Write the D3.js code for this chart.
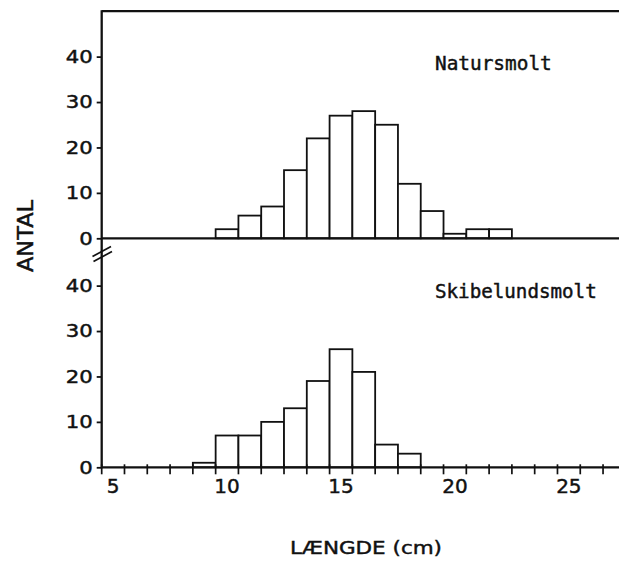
<!DOCTYPE html>
<html><head><meta charset="utf-8">
<script src="https://cdn.jsdelivr.net/npm/d3@7"></script>
<style>body{margin:0;background:#fff}svg{display:block}</style>
</head><body>
<svg id="chart" width="619" height="561"></svg>
<script>
// ---- data ----
const naturLengths = [10, 11, 12, 13, 14, 15, 16, 17, 18, 19, 20, 21, 22];
const naturCounts  = [2, 5, 7, 15, 22, 27, 28, 25, 12, 6, 1, 2, 2];
const skibeLengths = [9, 10, 11, 12, 13, 14, 15, 16, 17, 18];
const skibeCounts  = [1, 7, 7, 10, 13, 19, 26, 21, 5, 3];
const yTickValues  = [0, 10, 20, 30, 40];
const xLabelValues = [5, 10, 15, 20, 25];
const xEdgeTicks   = d3.range(4.5, 27, 1);
const panelTitles  = ["Natursmolt", "Skibelundsmolt"];
const xTitle = "LÆNGDE (cm)";
const yTitle = "ANTAL";

const svg = d3.select("#chart");
const x = d3.scaleLinear().domain([4.5, 27.2]).range([101.7, 619]);
const yTop = d3.scaleLinear().domain([0, 50]).range([238.3, 11.2]);
const yBot = d3.scaleLinear().domain([0, 50]).range([467.3, 240.2]);

const ink = "#111";
const textStroke = 0.45;

function drawBars(lengths, counts, y) {
  svg.append("g").selectAll("rect")
    .data(lengths.map((l, i) => ({l, c: counts[i]})))
    .join("rect")
    .attr("x", d => x(d.l - 0.5))
    .attr("width", d => x(d.l + 0.5) - x(d.l - 0.5))
    .attr("y", d => y(d.c))
    .attr("height", d => y(0) - y(d.c))
    .attr("fill", "#fff")
    .attr("stroke", ink)
    .attr("stroke-width", 1.8);
}
drawBars(naturLengths, naturCounts, yTop);
drawBars(skibeLengths, skibeCounts, yBot);

// y axes
function drawYAxis(y) {
  const g = svg.append("g").attr("transform", `translate(${x(4.5)},0)`)
    .call(d3.axisLeft(y).tickValues(yTickValues).tickSize(5).tickPadding(4).tickFormat(d3.format("d")));
  g.select(".domain").remove();
  g.selectAll(".tick line").attr("stroke", ink).attr("stroke-width", 1.8);
  g.selectAll(".tick text")
    .attr("font-family", "DejaVu Sans, sans-serif")
    .attr("font-size", 18)
    .attr("fill", ink)
    .attr("stroke", ink).attr("stroke-width", textStroke)
    .attr("textLength", d => String(d).length * 13.5)
    .attr("lengthAdjust", "spacingAndGlyphs");
}
drawYAxis(yTop);
drawYAxis(yBot);

// frame lines
const lines = svg.append("g").attr("stroke", ink).attr("stroke-width", 2.3);
lines.append("line").attr("x1", x(4.5)).attr("x2", x(27.2)).attr("y1", yTop(50)).attr("y2", yTop(50));
lines.append("line").attr("x1", x(4.5)).attr("x2", x(27.2)).attr("y1", yTop(0)).attr("y2", yTop(0));
lines.append("line").attr("x1", x(4.5)).attr("x2", x(27.2)).attr("y1", yBot(0)).attr("y2", yBot(0));
lines.append("line").attr("x1", x(4.5)).attr("x2", x(4.5)).attr("y1", yTop(50) - 1).attr("y2", yBot(0) + 1);

// axis break marks
const brk = svg.append("g").attr("stroke", ink).attr("stroke-width", 1.7);
brk.append("line").attr("x1", 92.5).attr("y1", 256.5).attr("x2", 111).attr("y2", 246.5);
brk.append("line").attr("x1", 93.5).attr("y1", 261.5).attr("x2", 112).attr("y2", 251.5);

// bottom x-axis ticks at bin edges
svg.append("g").selectAll("line").data(xEdgeTicks).join("line")
  .attr("x1", d => x(d)).attr("x2", d => x(d))
  .attr("y1", yBot(0) - 3).attr("y2", yBot(0) + 7)
  .attr("stroke", ink).attr("stroke-width", 1.7);

// x labels
svg.append("g").selectAll("text").data(xLabelValues).join("text")
  .attr("x", d => x(d)).attr("y", 493)
  .attr("text-anchor", "middle")
  .attr("font-family", "DejaVu Sans, sans-serif")
  .attr("font-size", 20)
  .attr("fill", ink).attr("stroke", ink).attr("stroke-width", textStroke)
  .text(d => d);

// panel titles
svg.append("text").attr("x", 435).attr("y", 70)
  .attr("font-family", "DejaVu Sans Mono, monospace").attr("font-size", 19.4)
  .attr("fill", ink).attr("stroke", ink).attr("stroke-width", textStroke)
  .text(panelTitles[0]);
svg.append("text").attr("x", 435).attr("y", 298)
  .attr("font-family", "DejaVu Sans Mono, monospace").attr("font-size", 19.2)
  .attr("fill", ink).attr("stroke", ink).attr("stroke-width", textStroke)
  .text(panelTitles[1]);

// axis titles
svg.append("text").attr("x", 290).attr("y", 553.5)
  .attr("font-family", "DejaVu Sans, sans-serif").attr("font-size", 18.5)
  .attr("textLength", 152).attr("lengthAdjust", "spacingAndGlyphs")
  .attr("fill", ink).attr("stroke", ink).attr("stroke-width", textStroke)
  .text(xTitle);
svg.append("text")
  .attr("transform", "translate(33,236) rotate(-90)")
  .attr("text-anchor", "middle")
  .attr("font-family", "DejaVu Sans, sans-serif").attr("font-size", 20.5)
  .attr("textLength", 72).attr("lengthAdjust", "spacingAndGlyphs")
  .attr("fill", ink).attr("stroke", ink).attr("stroke-width", textStroke)
  .text(yTitle);
</script>
</body></html>
